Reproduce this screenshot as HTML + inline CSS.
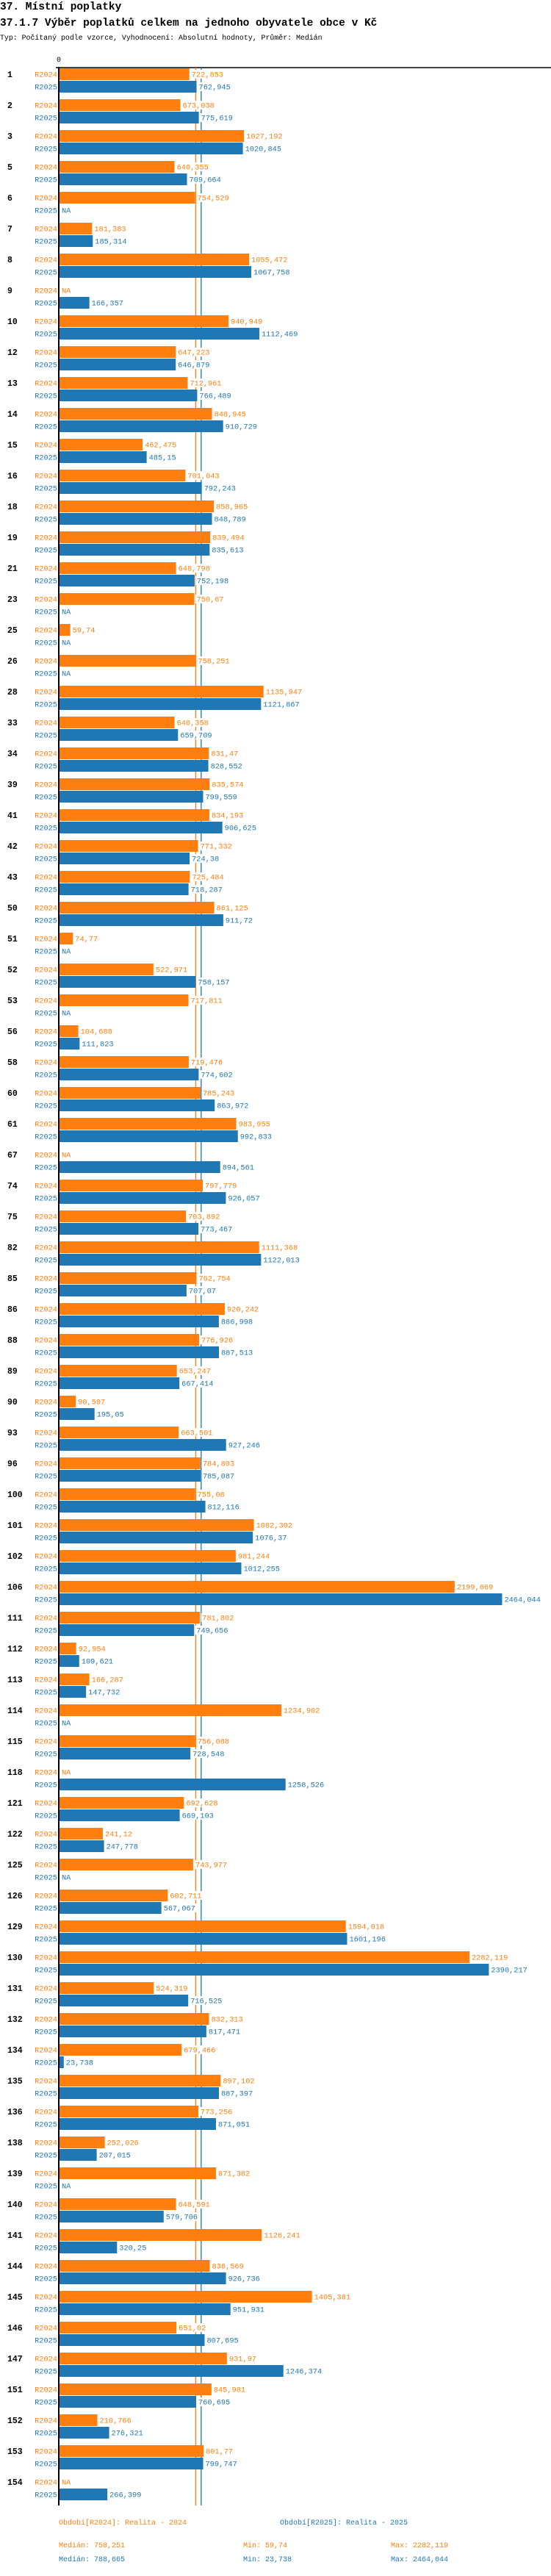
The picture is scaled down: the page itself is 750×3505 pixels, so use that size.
<!DOCTYPE html>
<html><head><meta charset="utf-8">
<style>
html,body{margin:0;padding:0;background:#fff;}
body{width:750px;height:3500px;overflow:hidden;font-family:"Liberation Mono",monospace;}
svg text{font-family:"Liberation Mono","DejaVu Sans Mono",monospace;}
</style></head>
<body>
<svg id="chart" width="750" height="3500" xmlns="http://www.w3.org/2000/svg">
<text x="0" y="13" font-size="14.5" font-weight="bold" fill="#000">37. Místní poplatky</text>
<text x="0" y="35" font-size="14.5" font-weight="bold" fill="#000">37.1.7 Výběr poplatků celkem na jednoho obyvatele obce v  Kč</text>
<text x="0" y="54" font-size="9.9" fill="#000">Typ: Počítaný podle vzorce, Vyhodnocení: Absolutní hodnoty, Průměr: Medián</text>
<g id="plot"></g>
<text x="80" y="3435" font-size="10" fill="#ff7f0e">Období[R2024]: Realita - 2024</text>
<text x="381" y="3435" font-size="10" fill="#1f77b4">Období[R2025]: Realita - 2025</text>
<text x="80" y="3466" font-size="10" fill="#ff7f0e">Medián: 758,251</text>
<text x="331" y="3466" font-size="10" fill="#ff7f0e">Min: 59,74</text>
<text x="532" y="3466" font-size="10" fill="#ff7f0e">Max: 2282,119</text>
<text x="80" y="3485" font-size="10" fill="#1f77b4">Medián: 788,665</text>
<text x="331" y="3485" font-size="10" fill="#1f77b4">Min: 23,738</text>
<text x="532" y="3485" font-size="10" fill="#1f77b4">Max: 2464,044</text>
</svg>
<script>
const categories = [1,2,3,5,6,7,8,9,10,12,13,14,15,16,18,19,21,23,25,26,28,33,34,39,41,42,43,50,51,52,53,56,58,60,61,67,74,75,82,85,86,88,89,90,93,96,100,101,102,106,111,112,113,114,115,118,121,122,125,126,129,130,131,132,134,135,136,138,139,140,141,144,145,146,147,151,152,153,154];
const r2024 = [722.853,673.038,1027.192,640.355,754.529,181.383,1055.472,null,940.949,647.223,712.961,848.945,462.475,701.043,858.965,839.494,648.798,750.67,59.74,758.251,1135.947,640.358,831.47,835.574,834.193,771.332,725.484,861.125,74.77,522.971,717.811,104.688,719.476,785.243,983.955,null,797.779,703.892,1111.368,762.754,920.242,776.926,653.247,90.507,663.501,784.803,755.08,1082.302,981.244,2199.669,781.802,92.954,166.287,1234.902,756.088,null,692.628,241.12,743.977,602.711,1594.018,2282.119,524.319,832.313,679.466,897.102,773.256,252.026,871.382,648.591,1126.241,836.569,1405.381,651.02,931.97,845.981,210.766,801.77,null];
const r2025 = [762.945,775.619,1020.845,709.664,null,185.314,1067.758,166.357,1112.469,646.879,766.489,910.729,485.15,792.243,848.789,835.613,752.198,null,null,null,1121.867,659.709,828.552,799.559,906.625,724.38,718.287,911.72,null,758.157,null,111.823,774.602,863.972,992.833,894.561,926.057,773.467,1122.013,707.07,886.998,887.513,667.414,195.05,927.246,785.087,812.116,1076.37,1012.255,2464.044,749.656,109.621,147.732,null,728.548,1258.526,669.103,247.778,null,567.067,1601.196,2390.217,716.525,817.471,23.738,887.397,871.051,207.015,null,579.706,320.25,926.736,951.931,807.695,1246.374,760.695,276.321,799.747,266.399];
const medians = [758.251, 788.665];

const NS = "http://www.w3.org/2000/svg";
const X0 = 81, SCALE = 0.2445, TOP = 93, PITCH = 42, BARH = 16;
function xs(v){ return X0 + v*SCALE; }
function yGroup(i){ return TOP + i*PITCH; }
function fmt(v){ return String(v).replace('.', ','); }
const plot = document.getElementById('plot');
function mk(tag, attrs){ const e=document.createElementNS(NS,tag); for(const k in attrs) e.setAttribute(k,attrs[k]); plot.appendChild(e); return e; }

// axes
const topLine = mk('line',{x1:76,y1:92,x2:750,y2:92,stroke:'#000','stroke-width':1.5});


const zeroLbl = mk('text',{x:80,y:84,'font-size':10,'text-anchor':'middle',fill:'#000'});
zeroLbl.textContent='0';



// median lines
const colors = ['#ff7f0e','#1f77b4'];
const lastY = yGroup(categories.length-1) + 2*BARH + 8;
medians.forEach((m,k)=>{
  const l = mk('line',{x1:xs(m),x2:xs(m),y1:92,y2:lastY,stroke:colors[k],'stroke-width':1.3});
  
  
});

const series = [r2024, r2025];
const sNames = ['R2024','R2025'];
categories.forEach((c,i)=>{
  const gy = yGroup(i);
  const g = mk('text',{x:10,y:gy+BARH/2+4,'font-size':11.5,'font-weight':'bold',fill:'#000'});
  g.textContent = c;
  
  
  series.forEach((arr,k)=>{
    const by = gy + k*(BARH+1);
    const sl = mk('text',{x:78,y:by+BARH/2+3.5,'font-size':10.3,'text-anchor':'end',fill:colors[k]});
    sl.textContent = sNames[k];
    
    
    const v = arr[i];
    if (v === null) {
      const na = mk('text',{x:84,y:by+BARH/2+3.5,'font-size':10.3,fill:colors[k]});
      na.textContent = 'NA';
      
      
      return;
    }
    const b = mk('rect',{x:X0,y:by,width:Math.max(0,xs(v)-X0),height:BARH,fill:colors[k]});
    
    
    const txt = fmt(v);
    const tw = txt.length*6.2;
    const bg = mk('rect',{x:xs(v)+1.5,y:by+2,width:tw+3,height:BARH-4,fill:'#fff'});
    
    
    const vl = mk('text',{x:xs(v)+3,y:by+BARH/2+3.5,'font-size':10.3,fill:colors[k]});
    vl.textContent = txt;
    
    
  });
});
const axis = mk('line',{x1:80,y1:91,x2:80,y2:lastY,stroke:'#000','stroke-width':2});


</script>
</body></html>
